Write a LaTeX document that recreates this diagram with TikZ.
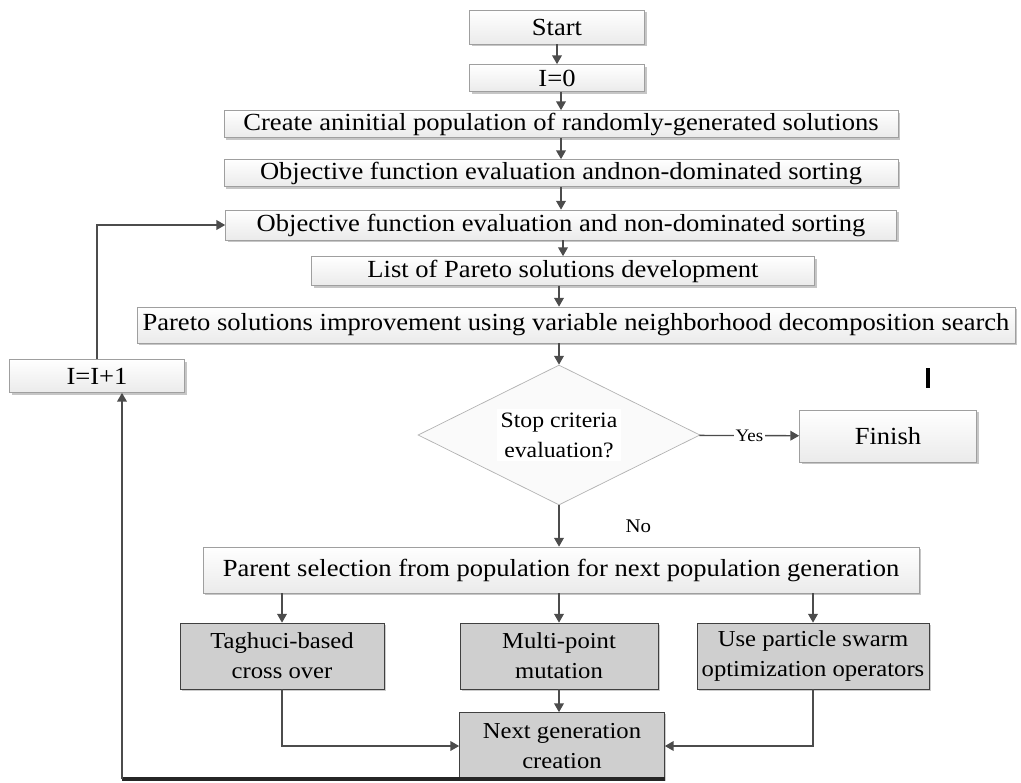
\documentclass[tikz,border=0pt]{standalone}
\usepackage{fontspec}
\setmainfont{Liberation Serif}[FakeStretch=1.08]
\usepackage{tikz}
\usetikzlibrary{arrows.meta}
\usetikzlibrary{shapes.geometric}
\usetikzlibrary{shadows}
\tikzstyle{step_box}=[draw=gray!75, top color=white, bottom color=gray!16, inner sep=0pt,
  drop shadow={shadow xshift=1.2pt, shadow yshift=-1.2pt, opacity=0.45},
  font=\fontsize{14}{16}\selectfont]
\tikzstyle{op_box}=[draw=black!75, fill=black!19, inner sep=0pt, align=center,
  drop shadow={shadow xshift=1pt, shadow yshift=-1pt, opacity=0.4},
  font=\fontsize{13}{17}\selectfont]
\tikzstyle{flow}=[draw=black!70, line width=0.8pt, -{Triangle[length=5pt, width=5.5pt]}]

\begin{document}
\begin{tikzpicture}[x=0.02cm, y=-0.02cm]
              \useasboundingbox (0,0) rectangle (1021,782);
              \node[step_box, minimum width=3.5cm, minimum height=0.68cm] (start) at (557,27){Start};
              \node[step_box, minimum width=3.5cm, minimum height=0.54cm] (izero) at (557,78){I=0};
              \node[step_box, minimum width=13.48cm, minimum height=0.54cm] (create) at (561,124){Create aninitial population of randomly-generated solutions};
              \node[step_box, minimum width=13.48cm, minimum height=0.54cm] (objone) at (561,173){Objective function evaluation andnon-dominated sorting};
              \node[step_box, minimum width=13.42cm, minimum height=0.6cm] (objtwo) at (561,225){Objective function evaluation and non-dominated sorting};
              \node[step_box, minimum width=10.06cm, minimum height=0.58cm] (pareto) at (563,271){List of Pareto solutions development};
              \node[step_box, minimum width=17.56cm, minimum height=0.72cm] (improve) at (576,325){Pareto solutions improvement using variable neighborhood decomposition search};
              \node[step_box, minimum width=3.5cm, minimum height=0.66cm] (incr) at (97,376){I=I+1};
              \node[diamond, draw=gray!60, fill=gray!4, minimum width=5.64cm, minimum height=2.8cm, aspect=2] (stop) at (559,435){};
              \node[fill=white, align=center, inner sep=2pt, font=\fontsize{12.5}{17}\selectfont] (stoptext) at (559,435){Stop criteria\\evaluation?};
              \node[step_box, minimum width=3.54cm, minimum height=1.04cm] (finish) at (888,436){Finish};
              \node[step_box, minimum width=14.32cm, minimum height=0.92cm] (parent) at (561,570){Parent selection from population for next population generation};
              \node[op_box, minimum width=4.08cm, minimum height=1.32cm] (taguchi) at (282,656){Taghuci-based\\cross over};
              \node[op_box, minimum width=3.96cm, minimum height=1.32cm] (mutation) at (559,656){Multi-point\\mutation};
              \node[op_box, minimum width=4.64cm, minimum height=1.32cm] (swarm) at (813,656){Use particle swarm\\optimization operators};
              \node[op_box, minimum width=4.1cm, minimum height=1.34cm] (nextgen) at (562,746){Next generation\\creation};
              \coordinate (loopcorner) at (122,779);
              \draw[flow](start) -- (izero);
              \draw[flow](izero.south -| create) -- (create);
              \draw[flow](create) -- (objone);
              \draw[flow](objone) -- (objtwo);
              \draw[flow](objtwo.south -| pareto) -- (pareto);
              \draw[flow](pareto.south -| stop) -- (improve.north -| stop);
              \draw[flow](improve.south -| stop) -- (stop);
              \draw[flow](stop) -- node[fill=white, inner sep=1pt, font=\fontsize{10}{12}\selectfont]{Yes} (finish);
              \draw[flow](stop) -- node[anchor=west, xshift=1.2cm, font=\fontsize{11}{13}\selectfont]{No} (stop.south |- parent.north);
              \draw[flow](parent.south -| taguchi) -- (taguchi);
              \draw[flow](parent.south -| mutation) -- (mutation);
              \draw[flow](parent.south -| swarm) -- (swarm);
              \draw[flow](mutation.south) -- (mutation.south |- nextgen.north);
              \draw[flow](taguchi) |- (nextgen);
              \draw[flow](swarm) |- (nextgen);
              \draw[black!85, line width=2pt](nextgen.south east |- loopcorner) -- (loopcorner);
              \draw[flow](loopcorner) -- (loopcorner |- incr.south);
              \draw[flow](incr) |- (objtwo);
              \draw[black, line width=2pt](928,368) -- (928,388);
            \end{tikzpicture}
\end{document}
